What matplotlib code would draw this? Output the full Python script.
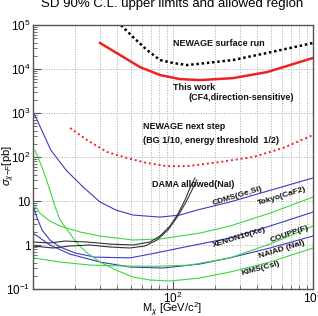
import matplotlib
matplotlib.use("Agg")
import matplotlib.pyplot as plt
from matplotlib.ticker import FixedLocator, NullFormatter

plt.rcParams['font.family'] = ['Liberation Sans', 'DejaVu Sans']
plt.rcParams['mathtext.fontset'] = 'custom'
plt.rcParams['mathtext.rm'] = 'Liberation Sans'
plt.rcParams['mathtext.it'] = 'Liberation Sans:italic'

# limit curves, mass [GeV/c^2] vs cross section [pb]
this_work_x = [30.1, 41.8, 58, 80.7, 112, 156, 268, 469, 1000]
this_work_y = [3.9e4, 2.08e4, 1.11e4, 7.3e3, 5.9e3, 5.6e3, 6.2e3, 8.5e3, 1.78e4]

surface_x = [40, 51.8, 65.2, 80.7, 100, 126, 174, 268, 469, 1000]
surface_y = [1.2e5, 5.33e4, 2.7e4, 1.6e4, 1.37e4, 1.23e4, 1.37e4, 1.6e4, 2.31e4, 3.9e4]

next_x = [18.4, 24.3, 33.8, 46.9, 65.2, 90.6, 126, 193, 373, 611, 1000]
next_y = [456, 243, 130, 95, 73, 62, 62, 73, 100, 160, 316]

cdms_x = [10, 10.7, 13.4, 17.2, 22.8, 30.1, 39.2, 51.8, 80.7, 112, 148, 255, 1000]
cdms_y = [1054, 693, 144, 50.7, 20.8, 9.5, 6.2, 4.8, 4.3, 4.8, 6.2, 9.5, 33.4]

tokyo_x = [10, 11.2, 13.2, 15.6, 21.7, 30.1, 51.8, 80.7, 156, 255, 493, 1000]
tokyo_y = [9.0, 5.3, 3.5, 2.7, 1.97, 1.6, 1.3, 1.37, 1.87, 2.7, 5.3, 12.3]

xenon_x = [10, 10.7, 11.6, 13.2, 15.6, 19.9, 27.7, 49.3, 68.5, 132, 255, 493, 1000]
xenon_y = [8.1, 4.1, 2.19, 1.3, 0.90, 0.66, 0.53, 0.51, 0.62, 0.95, 1.44, 2.7, 5.6]

naiad_x = [10, 13.2, 18.4, 30.1, 49.3, 84.8, 156, 255, 493, 1000]
naiad_y = [1.87, 1.0, 0.62, 0.41, 0.316, 0.30, 0.37, 0.51, 0.855, 1.6]

coupp_x = [10, 15.6, 25.5, 49.3, 80.7, 132, 255, 493, 1000]
coupp_y = [0.51, 0.41, 0.35, 0.33, 0.33, 0.35, 0.51, 1.05, 2.7]

kims_x = [10.3, 10.9, 11.8, 13.2, 14.4, 15.6, 17.2, 20.3, 23.9, 30.1, 39.2, 51.8,
          68.5, 95.2, 156, 255, 493, 1000]
kims_y = [144, 95, 50.7, 17.8, 7.3, 3.7, 2.43, 1.17, 0.69, 0.41, 0.27, 0.187,
          0.16, 0.152, 0.178, 0.243, 0.41, 0.855]

dama1_x = [10, 13.2, 16.9, 24.3, 35.5, 51.8, 68.5, 80.7, 95.2, 108.6, 121.8, 132, 143.6]
dama1_y = [1.17, 1.11, 1.23, 1.17, 1.05, 1.0, 1.17, 1.6, 2.7, 5.1, 10.5, 19.7, 33.4]
dama2_x = [10, 13.9, 18.4, 25.5, 35.5, 49.3, 63.1, 76.9, 92.1, 108.6, 124, 136.7, 148]
dama2_y = [0.95, 0.855, 0.95, 1.0, 0.90, 0.855, 0.95, 1.3, 2.19, 4.6, 9.5, 17.8, 30]

blue = '#3b3bc8'
green = '#3fd63f'

fig = plt.figure(figsize=(3.18, 3.16), dpi=100)
ax = fig.add_axes([33 / 318, 1 - 289 / 316, 280 / 318, 264 / 316])
ax.set_xscale('log')
ax.set_yscale('log')
ax.set_xlim(10, 1000)
ax.set_ylim(0.1, 1e5)

ax.plot(cdms_x, cdms_y, color=blue, lw=0.8)
ax.plot(xenon_x, xenon_y, color=blue, lw=0.8)
ax.plot(naiad_x, naiad_y, color=blue, lw=0.8)
ax.plot(tokyo_x, tokyo_y, color=green, lw=0.8)
ax.plot(coupp_x, coupp_y, color=green, lw=0.8)
ax.plot(kims_x, kims_y, color=green, lw=0.8)
ax.plot(dama1_x, dama1_y, color='#333333', lw=0.8)
ax.plot(dama2_x, dama2_y, color='#333333', lw=0.8)
ax.plot(next_x, next_y, color='#ee2222', lw=1.4, ls=(0, (1, 1.5)))
ax.plot(surface_x, surface_y, color='black', lw=1.8, ls=(0, (1, 1.1)))
ax.plot(this_work_x, this_work_y, color='#ee2222', lw=1.8)

# ticks and grid
ax.xaxis.set_major_locator(FixedLocator([10, 100, 1000]))
ax.set_xticklabels(['', '$10^2$', '$10^3$'])
ax.xaxis.set_minor_locator(FixedLocator([20, 30, 40, 50, 60, 70, 80, 90,
                                         200, 300, 400, 500, 600, 700, 800, 900]))
ax.xaxis.set_minor_formatter(NullFormatter())
yt = [0.1, 1, 10, 100, 1e3, 1e4, 1e5]
ax.yaxis.set_major_locator(FixedLocator(yt))
ax.set_yticklabels(['$10^{-1}$', '1', '10', '$10^2$', '$10^3$', '$10^4$', '$10^5$'])
ax.tick_params(which='both', direction='in', top=False, right=False,
               labelsize=8.5, color='#555555')
ax.tick_params(which='major', length=6)
ax.tick_params(which='minor', length=3)
ax.tick_params(axis='x', pad=1)
ax.tick_params(axis='y', pad=2)
ax.grid(which='both', axis='x', color='#aaaaaa', ls=':', lw=0.7)
ax.grid(which='major', axis='y', color='#aaaaaa', ls=':', lw=0.7)
for s in ax.spines.values():
    s.set_color('#555555')
    s.set_linewidth(1.0)

# labels
kw = dict(fontsize=6.5, fontweight='bold', color='#111111')
rk = dict(fontsize=6, fontweight='bold', color='#111111', ha='center', va='center')
ax.text(100, 3.7e4, 'NEWAGE surface run', ha='left', va='center', **kw)
ax.text(100, 3.7e3, 'This work', ha='left', va='center', **kw)
ax.text(128, 2.3e3, '(CF4,direction-sensitive)', ha='left', va='center', **kw)
ax.text(61, 481, 'NEWAGE next step', ha='left', va='center', **kw)
ax.text(61, 243, '(BG 1/10, energy threshold  1/2)', ha='left', va='center', **kw)
ax.text(70.8, 24.3, 'DAMA allowed(NaI)', ha='left', va='center', **kw)
ax.text(291, 13, 'CDMS(Ge,Si)', rotation=17, **rk)
ax.text(601, 13, 'Tokyo(CaF2)', rotation=17, **rk)
ax.text(296, 1.48, 'XENON10(Xe)', rotation=17, **rk)
ax.text(685, 1.73, 'COUPP(F)', rotation=19, **rk)
ax.text(601, 0.77, 'NAIAD (NaI)', rotation=17, **rk)
ax.text(425, 0.29, 'KIMS(CsI)', rotation=15, **rk)

fig.text(172 / 318, 1 - 7 / 316, 'SD 90% C.L. upper limits and allowed region',
         ha='center', va='baseline', fontsize=9.5)
fig.text(9 / 318, 1 - 166 / 316, r'$\sigma_{\chi\!-\!F}$[pb]', rotation=90,
         ha='center', va='center', fontsize=8)
fig.text(172 / 318, 1 - 310 / 316, r'M$_\chi$ [GeV/c$^2$]',
         ha='center', va='center', fontsize=8)

fig.savefig('out.png', dpi=100)
